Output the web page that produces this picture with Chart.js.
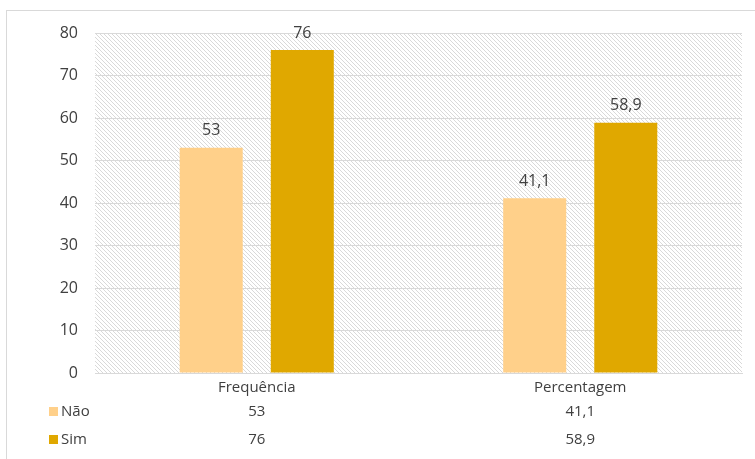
<!DOCTYPE html>
<html>
<head>
<meta charset="utf-8">
<script src="https://cdn.jsdelivr.net/npm/chart.js@4"></script>
<style>
  html, body { margin:0; padding:0; background:#fff; }
  #wrap { width:755px; height:459px; position:relative; }
</style>
</head>
<body>
<div id="wrap"><canvas id="chart"></canvas></div>
<script>
// Dados
const categorias = ['Frequência', 'Percentagem'];
const serieNao = [53, 41.1];
const serieSim = [76, 58.9];
const nomesSeries = ['Não', 'Sim'];
const coresSeries = ['#FFD08A', '#E0A800'];

const FONT = '"Open Sans", sans-serif';
const fmt = v => String(v).replace('.', ',');

// fundo tracejado da área do gráfico
const hatchPlugin = {
  id: 'hatch',
  beforeDraw(chart) {
    const {ctx, chartArea: a} = chart;
    ctx.save();
    ctx.fillStyle = '#fff';
    ctx.fillRect(a.left, a.top, a.right - a.left, a.bottom - a.top);
    ctx.beginPath();
    ctx.rect(a.left, a.top, a.right - a.left, a.bottom - a.top);
    ctx.clip();
    ctx.strokeStyle = '#d9d9d9';
    ctx.lineWidth = 1;
    const h = a.bottom - a.top;
    ctx.beginPath();
    for (let k = -h; k < a.right - a.left; k += 4) {
      ctx.moveTo(a.left + k, a.top);
      ctx.lineTo(a.left + k + h, a.bottom);
    }
    ctx.stroke();
    ctx.restore();
  }
};

// rótulos de valor e tabela de dados
const tablePlugin = {
  id: 'tabela',
  afterDraw(chart) {
    const ctx = chart.ctx;
    ctx.save();
    // rótulos acima das barras
    ctx.font = '16px ' + FONT;
    ctx.fillStyle = '#404040';
    ctx.textAlign = 'center';
    ctx.textBaseline = 'bottom';
    chart.data.datasets.forEach((ds, i) => {
      chart.getDatasetMeta(i).data.forEach((bar, j) => {
        ctx.fillText(fmt(ds.data[j]), bar.x, bar.y - 9);
      });
    });
    // tabela
    const xs = chart.scales.x;
    const rowsY = [412, 440];
    ctx.font = '15px ' + FONT;
    ctx.textBaseline = 'middle';
    chart.data.datasets.forEach((ds, i) => {
      const y = rowsY[i];
      ctx.fillStyle = ds.backgroundColor;
      ctx.fillRect(49, y - 5, 9, 9);
      ctx.fillStyle = '#404040';
      ctx.textAlign = 'left';
      ctx.fillText(ds.label, 61, y);
      ctx.textAlign = 'center';
      ds.data.forEach((v, j) => {
        ctx.fillText(fmt(v), xs.getPixelForValue(j), y);
      });
    });
    // borda do gráfico
    ctx.strokeStyle = '#d9d9d9';
    ctx.lineWidth = 1;
    ctx.strokeRect(6.5, 10.5, 760, 470);
    ctx.restore();
  }
};

new Chart(document.getElementById('chart'), {
  type: 'bar',
  data: {
    labels: categorias,
    datasets: [
      {label: nomesSeries[0], data: serieNao, backgroundColor: coresSeries[0]},
      {label: nomesSeries[1], data: serieSim, backgroundColor: coresSeries[1]}
    ]
  },
  options: {
    responsive: true,
    maintainAspectRatio: false,
    animation: false,
    layout: {padding: {left: 0, right: 13, top: 33, bottom: 0}},
    categoryPercentage: 0.563,
    barPercentage: 0.692,
    plugins: {legend: {display: false}, tooltip: {enabled: false}},
    scales: {
      x: {
        grid: {display: false, drawTicks: false},
        border: {color: '#d9d9d9'},
        ticks: {color: '#404040', font: {family: FONT, size: 15}, padding: 6},
        afterFit: s => { s.height = 86; }
      },
      y: {
        min: 0, max: 80,
        grid: {color: '#d9d9d9', drawTicks: false},
        border: {display: false},
        ticks: {stepSize: 10, color: '#404040', font: {family: FONT, size: 16}, padding: 17},
        afterFit: s => { s.width = 95; }
      }
    }
  },
  plugins: [hatchPlugin, tablePlugin]
});
</script>
</body>
</html>
